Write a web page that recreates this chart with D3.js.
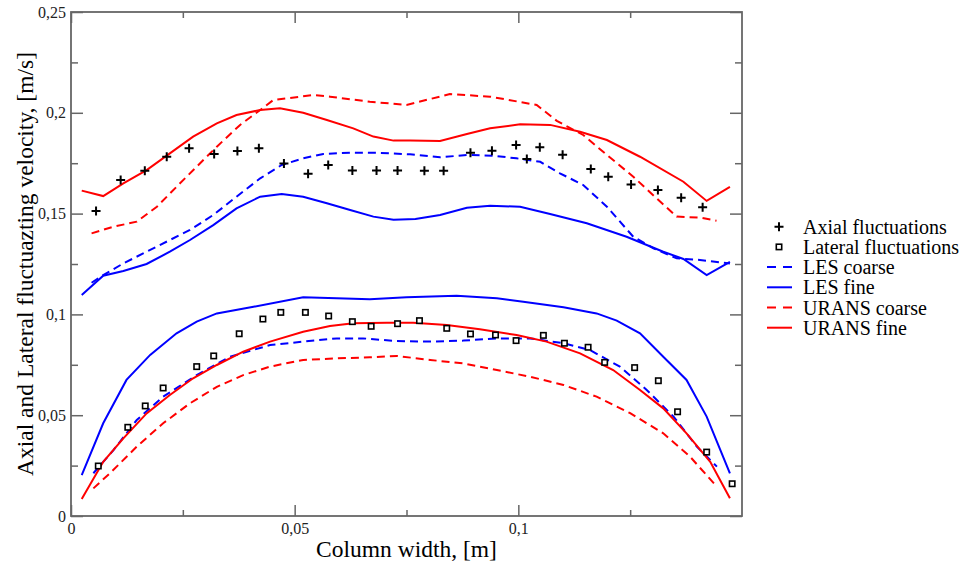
<!DOCTYPE html>
<html><head><meta charset="utf-8">
<script src="https://cdn.jsdelivr.net/npm/d3@7"></script>
<style>body{margin:0;background:#fff}svg text{font-family:"Liberation Serif","DejaVu Serif",serif}</style>
</head><body><svg id="c" width="968" height="567"></svg>
<script>
// ---- data ----
const xTicks = [0, 0.05, 0.1];
const xTickLabels = ["0", "0,05", "0,1"];
const yTicks = [0, 0.05, 0.1, 0.15, 0.2, 0.25];
const yTickLabels = ["0", "0,05", "0,1", "0,15", "0,2", "0,25"];
const legendLabels = ["Axial fluctuations","Lateral fluctuations","LES coarse","LES fine","URANS coarse","URANS fine"];

const axialExp = [[0.0056,0.1513],[0.0111,0.1667],[0.0165,0.1713],[0.0214,0.1782],[0.0264,0.1824],[0.0320,0.1796],[0.0372,0.1810],[0.0420,0.1824],[0.0476,0.1749],[0.0530,0.1698],[0.0575,0.1741],[0.0629,0.1714],[0.0683,0.1714],[0.0730,0.1714],[0.0790,0.1713],[0.0833,0.1713],[0.0893,0.1802],[0.0941,0.1812],[0.0995,0.1840],[0.1019,0.1771],[0.1048,0.1829],[0.1099,0.1792],[0.1162,0.1721],[0.1201,0.1683],[0.1252,0.1644],[0.1312,0.1617],[0.1364,0.1579],[0.1412,0.1531]];
const lateralExp = [[0.0061,0.0248],[0.0127,0.0440],[0.0166,0.0546],[0.0206,0.0635],[0.0281,0.0741],[0.0319,0.0794],[0.0376,0.0904],[0.0429,0.0977],[0.0469,0.1010],[0.0524,0.1010],[0.0576,0.0992],[0.0629,0.0964],[0.0671,0.0941],[0.0730,0.0954],[0.0779,0.0969],[0.0840,0.0931],[0.0893,0.0903],[0.0949,0.0898],[0.0995,0.0870],[0.1056,0.0896],[0.1103,0.0857],[0.1156,0.0837],[0.1193,0.0762],[0.1260,0.0736],[0.1313,0.0671],[0.1356,0.0517],[0.1421,0.0317],[0.1478,0.0160]];

const lesFineAxial = [[0.0024,0.1096],[0.0072,0.1192],[0.0117,0.1215],[0.0169,0.1250],[0.0221,0.1311],[0.0266,0.1369],[0.0318,0.1443],[0.0370,0.1526],[0.0423,0.1584],[0.0471,0.1597],[0.0519,0.1584],[0.0572,0.1551],[0.0624,0.1518],[0.0676,0.1485],[0.0721,0.1470],[0.0770,0.1473],[0.0825,0.1493],[0.0885,0.1529],[0.0937,0.1539],[0.1004,0.1534],[0.1071,0.1498],[0.1153,0.1452],[0.1242,0.1385],[0.1324,0.1311],[0.1369,0.1275],[0.1421,0.1195],[0.1473,0.1261]];
const lesCoarseAxial = [[0.0046,0.1157],[0.0072,0.1195],[0.0117,0.1253],[0.0169,0.1311],[0.0221,0.1369],[0.0266,0.1419],[0.0318,0.1493],[0.0370,0.1584],[0.0423,0.1675],[0.0471,0.1741],[0.0519,0.1774],[0.0564,0.1796],[0.0624,0.1802],[0.0683,0.1802],[0.0758,0.1794],[0.0825,0.1779],[0.0885,0.1791],[0.0944,0.1787],[0.0996,0.1774],[0.1049,0.1757],[0.1093,0.1700],[0.1145,0.1642],[0.1198,0.1534],[0.1257,0.1385],[0.1302,0.1328],[0.1354,0.1278],[0.1406,0.1270],[0.1473,0.1253]];
const uransFineAxial = [[0.0024,0.1614],[0.0072,0.1587],[0.0117,0.1650],[0.0169,0.1716],[0.0221,0.1799],[0.0273,0.1882],[0.0326,0.1948],[0.0370,0.1989],[0.0423,0.2014],[0.0467,0.2022],[0.0519,0.2000],[0.0572,0.1964],[0.0631,0.1923],[0.0676,0.1882],[0.0721,0.1862],[0.0758,0.1862],[0.0825,0.1860],[0.0885,0.1895],[0.0937,0.1923],[0.1004,0.1943],[0.1071,0.1940],[0.1138,0.1906],[0.1198,0.1865],[0.1272,0.1782],[0.1369,0.1658],[0.1421,0.1563],[0.1473,0.1633]];
const uransCoarseAxial = [[0.0046,0.1402],[0.0095,0.1435],[0.0147,0.1460],[0.0192,0.1534],[0.0236,0.1633],[0.0281,0.1733],[0.0326,0.1832],[0.0378,0.1940],[0.0423,0.2014],[0.0452,0.2063],[0.0542,0.2088],[0.0579,0.2080],[0.0668,0.2055],[0.0750,0.2039],[0.0847,0.2093],[0.0937,0.2080],[0.1041,0.2039],[0.1086,0.1960],[0.1145,0.1890],[0.1198,0.1791],[0.1257,0.1683],[0.1309,0.1576],[0.1354,0.1485],[0.1406,0.1480],[0.1443,0.1465]];

const lesFineLateral = [[0.0024,0.0203],[0.0072,0.0460],[0.0124,0.0675],[0.0177,0.0799],[0.0236,0.0906],[0.0281,0.0964],[0.0326,0.1005],[0.0408,0.1038],[0.0519,0.1085],[0.0594,0.1080],[0.0668,0.1075],[0.0750,0.1085],[0.0862,0.1093],[0.0952,0.1080],[0.1011,0.1063],[0.1101,0.1035],[0.1175,0.1005],[0.1220,0.0969],[0.1272,0.0906],[0.1324,0.0790],[0.1376,0.0675],[0.1421,0.0493],[0.1473,0.0212]];
const lesCoarseLateral = [[0.0050,0.0212],[0.0095,0.0327],[0.0147,0.0476],[0.0206,0.0592],[0.0281,0.0699],[0.0355,0.0790],[0.0445,0.0848],[0.0519,0.0865],[0.0594,0.0881],[0.0653,0.0881],[0.0728,0.0868],[0.0803,0.0865],[0.0877,0.0870],[0.0952,0.0881],[0.1026,0.0881],[0.1101,0.0857],[0.1160,0.0823],[0.1227,0.0741],[0.1287,0.0625],[0.1347,0.0493],[0.1399,0.0344],[0.1444,0.0245]];
const uransFineLateral = [[0.0024,0.0084],[0.0072,0.0269],[0.0117,0.0385],[0.0169,0.0509],[0.0221,0.0600],[0.0273,0.0683],[0.0326,0.0749],[0.0385,0.0815],[0.0445,0.0865],[0.0519,0.0914],[0.0579,0.0942],[0.0631,0.0956],[0.0706,0.0959],[0.0765,0.0959],[0.0840,0.0947],[0.0914,0.0926],[0.0996,0.0898],[0.1063,0.0865],[0.1138,0.0807],[0.1212,0.0724],[0.1272,0.0625],[0.1324,0.0534],[0.1376,0.0410],[0.1429,0.0269],[0.1473,0.0088]];
const uransCoarseLateral = [[0.0050,0.0137],[0.0087,0.0212],[0.0147,0.0344],[0.0206,0.0460],[0.0266,0.0559],[0.0326,0.0641],[0.0385,0.0699],[0.0445,0.0741],[0.0519,0.0774],[0.0594,0.0782],[0.0668,0.0787],[0.0728,0.0794],[0.0803,0.0774],[0.0877,0.0757],[0.0952,0.0724],[0.1026,0.0691],[0.1101,0.0650],[0.1175,0.0592],[0.1250,0.0510],[0.1324,0.0410],[0.1384,0.0294],[0.1444,0.0145]];

// ---- drawing ----
const svg = d3.select("#c");
const L = 71, R = 742, T = 12, B = 516;
const x = d3.scaleLinear().domain([0, 0.15]).range([L, R]);
const y = d3.scaleLinear().domain([0, 0.25]).range([B, T]);
const frameCol = "#666";

const styles = {
  lesCoarse: {color:"#0000ff", dash:"8,5"},
  lesFine: {color:"#0000ff", dash:null},
  uransCoarse: {color:"#ff0000", dash:"8,5"},
  uransFine: {color:"#ff0000", dash:null}
};
const curves = [
  [lesFineAxial, "lesFine"], [lesCoarseAxial, "lesCoarse"],
  [uransFineAxial, "uransFine"], [uransCoarseAxial, "uransCoarse"],
  [lesFineLateral, "lesFine"], [lesCoarseLateral, "lesCoarse"],
  [uransFineLateral, "uransFine"], [uransCoarseLateral, "uransCoarse"]
];
const line = d3.line().x(d => x(d[0])).y(d => y(d[1]));
curves.forEach(([data, key]) => {
  const s = styles[key];
  svg.append("path").attr("d", line(data)).attr("fill","none")
    .attr("stroke", s.color).attr("stroke-width", 2)
    .attr("stroke-dasharray", s.dash);
});

// markers
svg.append("g").selectAll("path").data(axialExp).join("path")
  .attr("d", d => `M${x(d[0])-4.5},${y(d[1])}h9M${x(d[0])},${y(d[1])-4.5}v9`)
  .attr("stroke","#000").attr("stroke-width",2).attr("fill","none");
svg.append("g").selectAll("rect").data(lateralExp).join("rect")
  .attr("x", d => x(d[0])-2.7).attr("y", d => y(d[1])-2.7)
  .attr("width",5.4).attr("height",5.4)
  .attr("fill","#fff").attr("stroke","#000").attr("stroke-width",1.6);

// axes (ticks inward)
const xMinor = [0.025, 0.075, 0.125];
const yMinor = [0.025, 0.075, 0.125, 0.175, 0.225];
const gBot = svg.append("g").attr("transform", `translate(0,${B})`)
  .call(d3.axisBottom(x).tickValues(xTicks).tickSize(-11).tickFormat((d,i)=>xTickLabels[i]).tickPadding(12));
const gBotMinor = svg.append("g").attr("transform", `translate(0,${B})`)
  .call(d3.axisBottom(x).tickValues(xMinor).tickSize(-6).tickFormat(""));
const gTop = svg.append("g").attr("transform", `translate(0,${T})`)
  .call(d3.axisTop(x).tickValues(xTicks).tickSize(-11).tickFormat(""));
const gTopMinor = svg.append("g").attr("transform", `translate(0,${T})`)
  .call(d3.axisTop(x).tickValues(xMinor).tickSize(-6).tickFormat(""));
const gLeft = svg.append("g").attr("transform", `translate(${L},0)`)
  .call(d3.axisLeft(y).tickValues(yTicks).tickSize(-12).tickFormat((d,i)=>yTickLabels[i]).tickPadding(5));
const gLeftMinor = svg.append("g").attr("transform", `translate(${L},0)`)
  .call(d3.axisLeft(y).tickValues(yMinor).tickSize(-7).tickFormat(""));
const gRight = svg.append("g").attr("transform", `translate(${R},0)`)
  .call(d3.axisRight(y).tickValues(yTicks).tickSize(-12).tickFormat(""));
const gRightMinor = svg.append("g").attr("transform", `translate(${R},0)`)
  .call(d3.axisRight(y).tickValues(yMinor).tickSize(-7).tickFormat(""));
[gBot,gBotMinor,gTop,gTopMinor,gLeft,gLeftMinor,gRight,gRightMinor].forEach(g => {
  g.select(".domain").remove();
  g.selectAll(".tick line").attr("stroke", frameCol).attr("stroke-width", 1.5);
  g.selectAll(".tick text").attr("font-family","Liberation Serif").attr("font-size",16).attr("fill","#222");
});
gBot.selectAll(".tick text").attr("dy","0.35em");

// frame
svg.append("rect").attr("x",L).attr("y",T).attr("width",R-L).attr("height",B-T)
  .attr("fill","none").attr("stroke",frameCol).attr("stroke-width",1.8);

// axis titles
svg.append("text").attr("x",(L+R)/2).attr("y",557).attr("text-anchor","middle")
  .attr("font-size",23.5).attr("fill","#000").text("Column width, [m]");
svg.append("text").attr("transform",`translate(33,264) rotate(-90)`)
  .attr("text-anchor","middle").attr("font-size",23.5).attr("fill","#000")
  .text("Axial and Lateral fluctuazting velocity, [m/s]");

// legend
const lg = svg.append("g");
const ly0 = 226.7, ldy = 20.2, lx = 779, ltx = 803;
legendLabels.forEach((lab, i) => {
  const yy = ly0 + i*ldy;
  if (i === 0) {
    lg.append("path").attr("d",`M${lx-4.5},${yy}h9M${lx},${yy-4.5}v9`).attr("stroke","#000").attr("stroke-width",2);
  } else if (i === 1) {
    lg.append("rect").attr("x",lx-2.7).attr("y",yy-2.7).attr("width",5.4).attr("height",5.4)
      .attr("fill","#fff").attr("stroke","#000").attr("stroke-width",1.6);
  } else {
    const s = styles[["lesCoarse","lesFine","uransCoarse","uransFine"][i-2]];
    lg.append("line").attr("x1",767).attr("x2",792).attr("y1",yy).attr("y2",yy)
      .attr("stroke",s.color).attr("stroke-width",2).attr("stroke-dasharray", s.dash ? "9,7" : null);
  }
  lg.append("text").attr("x",ltx).attr("y",yy).attr("dy","0.35em").attr("font-size",20)
    .attr("fill","#000").text(lab);
});
</script></body></html>
